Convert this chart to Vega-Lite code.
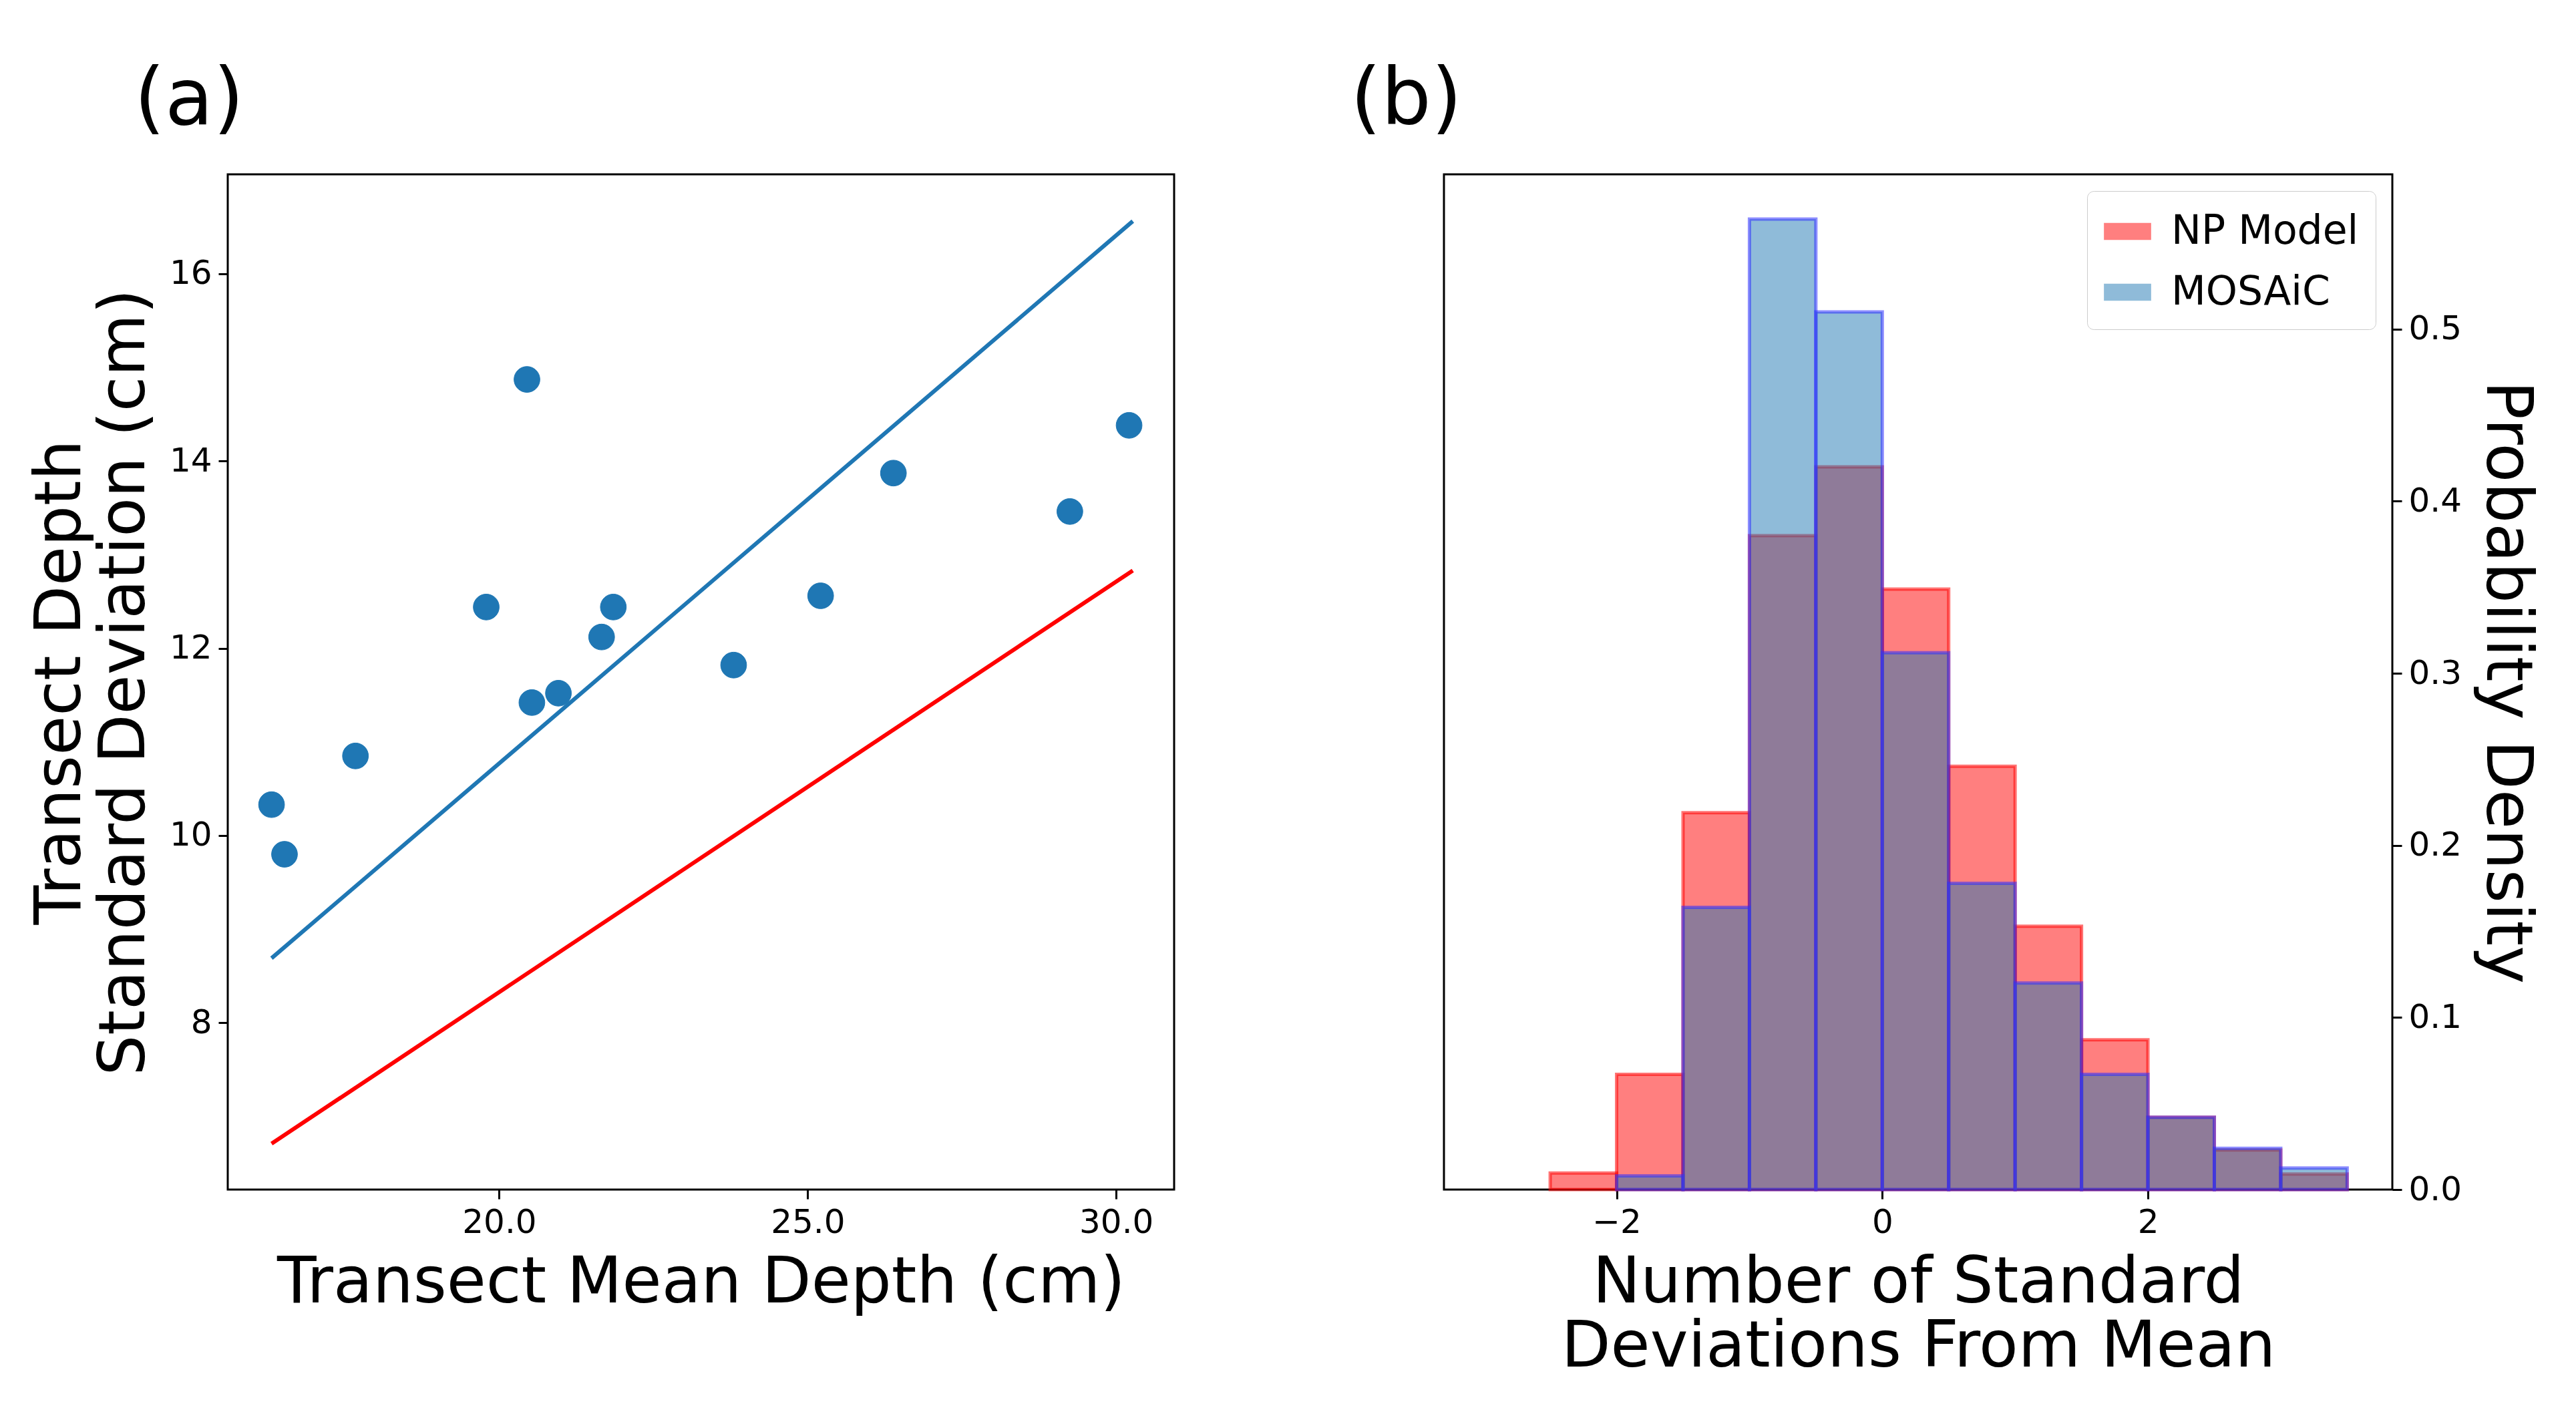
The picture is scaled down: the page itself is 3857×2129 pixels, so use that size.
{
"$schema":"https://vega.github.io/schema/vega-lite/v6.json",
"background":"white",
"padding":{"left":40,"top":90,"right":10,"bottom":10},
"spacing":260,
"config":{"font":"DejaVu Sans","view":{"stroke":"black","strokeWidth":3},
"axis":{"grid":false,"domain":false,"tickColor":"black","tickWidth":3,"tickSize":14,"labelFontSize":50,"titleFontSize":96,"labelColor":"black","titleColor":"black","titleFontWeight":"normal","labelPadding":10,"titlePadding":18,"titleLineHeight":96},
"legend":{"labelFontSize":60,"labelColor":"black","labelLimit":900},
"title":{"fontSize":118,"fontWeight":"normal","anchor":"start","frame":"group","offset":50}},
"hconcat":[
{"width":1417,"height":1520,"title":{"text":"(a)","dx":-140},
"layer":[
{"data":{"values":[
{"s":"NP Fit","x":16.31,"y":6.71},{"s":"NP Fit","x":30.27,"y":12.83},
{"s":"MOSAiC Fit","x":16.31,"y":8.69},{"s":"MOSAiC Fit","x":30.27,"y":16.56}]},
"mark":{"type":"line","strokeWidth":6},
"encoding":{"x":{"field":"x","type":"quantitative"},"y":{"field":"y","type":"quantitative"},
"color":{"field":"s","type":"nominal","scale":{"domain":["NP Fit","MOSAiC Fit","Magnaprobe Transects"],"range":["#ff0000","#1f77b4","#1f77b4"]},"legend":null},"detail":{"field":"s"}}},
{"data":{"values":[
{"s":"Magnaprobe Transects","x":16.31,"y":10.33},{"s":"Magnaprobe Transects","x":16.52,"y":9.80},
{"s":"Magnaprobe Transects","x":17.67,"y":10.85},{"s":"Magnaprobe Transects","x":19.79,"y":12.44},
{"s":"Magnaprobe Transects","x":20.45,"y":14.87},{"s":"Magnaprobe Transects","x":20.53,"y":11.42},
{"s":"Magnaprobe Transects","x":20.96,"y":11.52},{"s":"Magnaprobe Transects","x":21.66,"y":12.12},
{"s":"Magnaprobe Transects","x":21.85,"y":12.44},{"s":"Magnaprobe Transects","x":23.8,"y":11.82},
{"s":"Magnaprobe Transects","x":25.21,"y":12.56},{"s":"Magnaprobe Transects","x":26.39,"y":13.87},
{"s":"Magnaprobe Transects","x":29.25,"y":13.46},{"s":"Magnaprobe Transects","x":30.21,"y":14.38}]},
"mark":{"type":"point","filled":false,"opacity":1,"size":1500,"strokeWidth":1},
"encoding":{"x":{"field":"x","type":"quantitative","scale":{"domain":[15.6,30.94],"nice":false,"zero":false},"axis":{"values":[20,25,30]},"title":"Transect Mean Depth (cm)"},
"y":{"field":"y","type":"quantitative","scale":{"domain":[6.22,17.06],"nice":false,"zero":false},"axis":{"values":[8,10,12,14,16],"format":"d"},"title":["Transect Depth","Standard Deviation (cm)"]},
"color":{"field":"s","type":"nominal","title":null,"scale":{"domain":["NP Fit","MOSAiC Fit","Magnaprobe Transects"],"range":["#ff0000","#1f77b4","#1f77b4"]}},
"fill":{"field":"s","type":"nominal","title":null,"scale":{"domain":["NP Fit","MOSAiC Fit","Magnaprobe Transects"],"range":["transparent","transparent","#1f77b4"]}},
"shape":{"field":"s","type":"nominal","title":null,"scale":{"domain":["NP Fit","MOSAiC Fit","Magnaprobe Transects"],"range":["M-4,0H4","M-4,0H4","circle"]},
"legend":{"orient":"bottom-right","symbolSize":1500,"symbolStrokeWidth":6,"strokeColor":"#cccccc","fillColor":"white","padding":25,"cornerRadius":10,"rowPadding":30,"labelOffset":30,"offset":35,"labelExpr":"datum.label == 'Magnaprobe Transects' ? ['Magnaprobe','Transects'] : datum.label"}}}}
]
},
{"width":1420,"height":1520,"title":{"text":"(b)","dx":-140},
"data":{"values":[
{"s":"NP Model","a":-2.5,"b":-2,"d":0.0096},{"s":"NP Model","a":-2,"b":-1.5,"d":0.067},
{"s":"NP Model","a":-1.5,"b":-1,"d":0.219},{"s":"NP Model","a":-1,"b":-0.5,"d":0.38},
{"s":"NP Model","a":-0.5,"b":0,"d":0.42},{"s":"NP Model","a":0,"b":0.5,"d":0.349},
{"s":"NP Model","a":0.5,"b":1,"d":0.246},{"s":"NP Model","a":1,"b":1.5,"d":0.153},
{"s":"NP Model","a":1.5,"b":2,"d":0.087},{"s":"NP Model","a":2,"b":2.5,"d":0.042},
{"s":"NP Model","a":2.5,"b":3,"d":0.023},{"s":"NP Model","a":3,"b":3.5,"d":0.009},
{"s":"MOSAiC","a":-2,"b":-1.5,"d":0.008},{"s":"MOSAiC","a":-1.5,"b":-1,"d":0.164},
{"s":"MOSAiC","a":-1,"b":-0.5,"d":0.564},{"s":"MOSAiC","a":-0.5,"b":0,"d":0.51},
{"s":"MOSAiC","a":0,"b":0.5,"d":0.312},{"s":"MOSAiC","a":0.5,"b":1,"d":0.178},
{"s":"MOSAiC","a":1,"b":1.5,"d":0.12},{"s":"MOSAiC","a":1.5,"b":2,"d":0.067},
{"s":"MOSAiC","a":2,"b":2.5,"d":0.042},{"s":"MOSAiC","a":2.5,"b":3,"d":0.024},
{"s":"MOSAiC","a":3,"b":3.5,"d":0.0125}]},
"mark":{"type":"rect","fillOpacity":0.5,"strokeOpacity":0.55,"strokeWidth":5},
"encoding":{"x":{"field":"a","type":"quantitative","scale":{"domain":[-3.3,3.84],"nice":false,"zero":false},"axis":{"values":[-2,0,2],"labelExpr":"replace(datum.label,'-','\u2212')"},"title":["Number of Standard","Deviations From Mean"]},
"x2":{"field":"b"},
"y":{"field":"d","type":"quantitative","scale":{"domain":[0,0.59],"nice":false},"axis":{"orient":"right","values":[0,0.1,0.2,0.3,0.4,0.5],"format":".1f"},"title":"Probability Density"},
"y2":{"datum":0},
"color":{"field":"s","type":"nominal","scale":{"domain":["NP Model","MOSAiC"],"range":["#ff0000","#1f77b4"]},"legend":{"title":null,"orient":"top-right","symbolType":"M-1,-0.36H1V0.36H-1Z","symbolSize":5000,"symbolOpacity":0.5,"symbolStrokeWidth":0,"strokeColor":"#cccccc","fillColor":"white","padding":25,"cornerRadius":10,"rowPadding":25,"labelOffset":30,"offset":25}},
"stroke":{"field":"s","type":"nominal","scale":{"domain":["NP Model","MOSAiC"],"range":["#ff0000","#3030ff"]},"legend":null}}}
],
"resolve":{"scale":{"color":"independent","shape":"independent","fill":"independent","stroke":"independent"},"legend":{"color":"independent"}}
}
